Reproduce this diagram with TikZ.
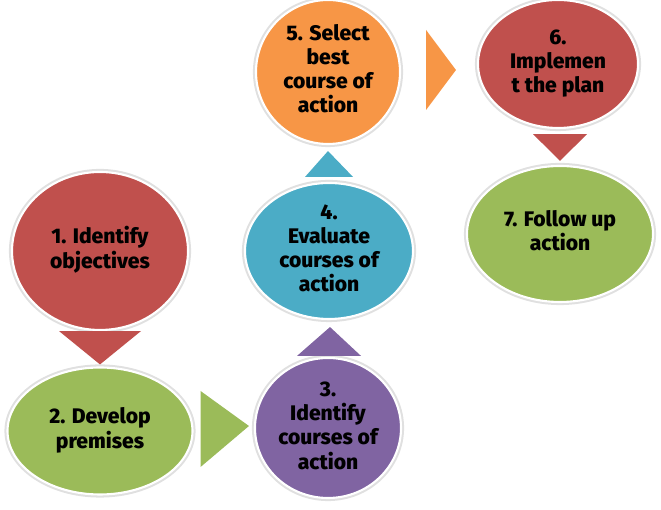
\documentclass[tikz,border=0pt]{standalone}
\usepackage{fontspec}
\setmainfont{Fira Sans}[BoldFont={Fira Sans ExtraBold}]
\definecolor{stepred}{HTML}{C0504D}
\definecolor{stepgreen}{HTML}{9BBB59}
\definecolor{steppurple}{HTML}{8064A2}
\definecolor{stepblue}{HTML}{4BACC6}
\definecolor{steporange}{HTML}{F79646}
\usetikzlibrary{shapes,positioning,calc}
\newcommand{\stagetext}[1]{\makebox[0pt]{\begin{tabular}{@{}c@{}}#1\end{tabular}}}
\tikzset{
  stage/.style={ellipse, fill=#1, draw=white, line width=1.2pt, inner sep=0pt,
    preaction={draw=black!12, line width=3.5pt},
    font=\fontsize{12}{13.6}\selectfont\bfseries}
}

\begin{document}
\begin{tikzpicture}
    \useasboundingbox (0,0) rectangle (13.22,10.2);

    % Planning steps
    \node[stage=stepred, minimum width=3.52cm, minimum height=3.16cm] (objectives) at (2.00,5.18) {\stagetext{1. Identify\\objectives}};
    \node[stage=stepgreen, minimum width=3.70cm, minimum height=2.54cm] (premises) at (2.00,1.58) {\stagetext{2. Develop\\premises}};
    \node[stage=steppurple, minimum width=2.92cm, minimum height=2.80cm] (courses) at (6.56,1.64) {\stagetext{3.\\Identify\\courses of\\action}};
    \node[stage=stepblue, minimum width=3.36cm, minimum height=2.56cm] (evaluate) at (6.58,5.18) {\stagetext{4.\\Evaluate\\courses of\\action}};
    \node[stage=steporange, minimum width=2.88cm, minimum height=2.88cm] (select) at (6.56,8.76) {\stagetext{5. Select\\best\\course of\\action}};
    \node[stage=stepred, minimum width=3.20cm, minimum height=2.56cm] (implement) at (11.16,8.92) {\stagetext{6.\\Implemen\\t the plan}};
    \node[stage=stepgreen, minimum width=3.72cm, minimum height=2.72cm] (follow) at (11.20,5.52) {\stagetext{7. Follow up\\action}};

    % Triangle arrows between steps
    \fill[stepred] ($(objectives.south)+(-0.82,0)$) -- ($(objectives.south)+(0.82,0)$) -- ($(premises.north)+(0,0.04)$) -- cycle;
    \fill[stepgreen] ($(premises.east)+(0.14,0.80)$) -- ($(premises.east)+(0.14,-0.72)$) -- ($(courses.west)+(-0.10,0.04)$) -- cycle;
    \fill[steppurple] ($(courses.north)+(-0.62,0.02)$) -- ($(courses.north)+(0.66,0.02)$) -- ($(evaluate.south)+(0.02,-0.14)$) -- cycle;
    \fill[stepblue] ($(evaluate.north)+(-0.48,0.10)$) -- ($(evaluate.north)+(0.48,0.10)$) -- ($(select.south)+(0,-0.12)$) -- cycle;
    \fill[steporange] ($(select.east)+(0.50,0.84)$) -- ($(select.east)+(0.50,-0.76)$) -- ($(implement.west)+(-0.42,-0.12)$) -- cycle;
    \fill[stepred] ($(implement.south)+(-0.50,-0.10)$) -- ($(implement.south)+(0.58,-0.10)$) -- ($(follow.north)+(0,0.08)$) -- cycle;
\end{tikzpicture}
\end{document}
